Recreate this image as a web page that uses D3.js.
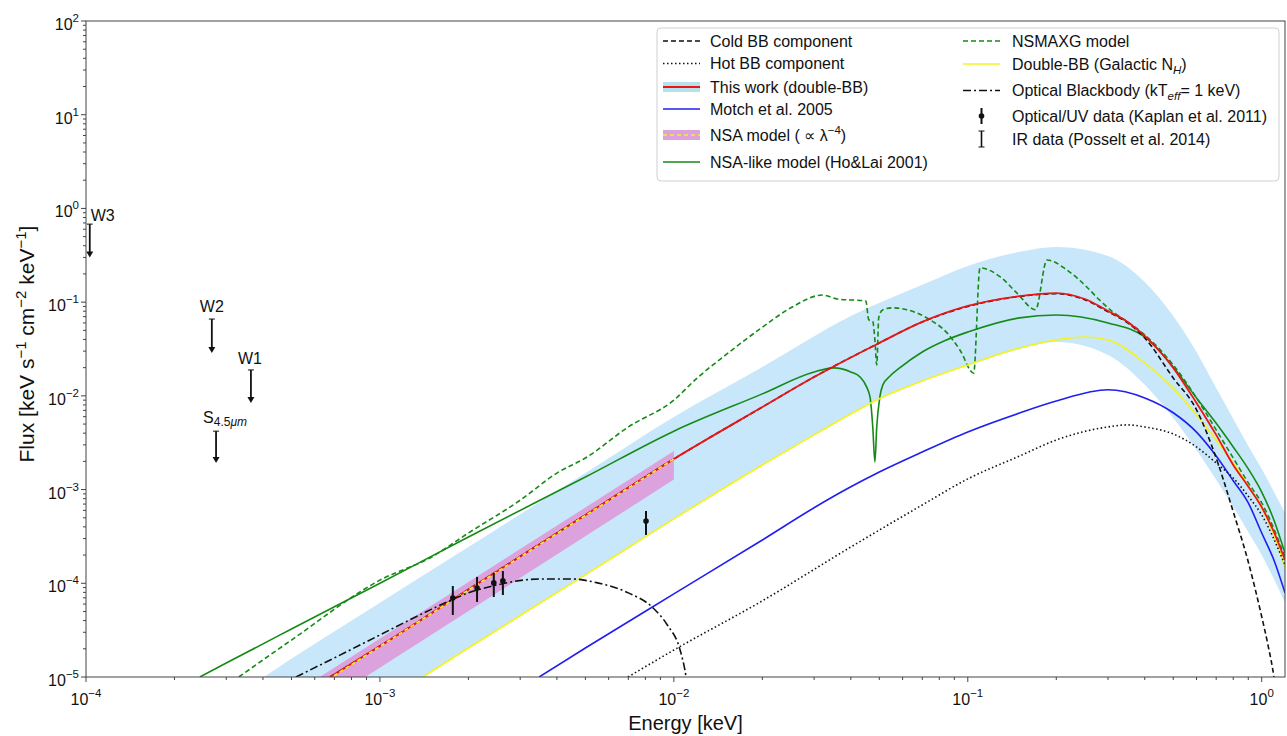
<!DOCTYPE html>
<html><head><meta charset="utf-8">
<script src="https://cdn.jsdelivr.net/npm/d3@7"></script>
<style>
body{margin:0;background:#fff}
svg{display:block}
text{font-family:"Liberation Sans",Arial,Helvetica,sans-serif;white-space:pre;fill:#111}
</style>
</head><body>
<svg id="chart" width="1287" height="736"></svg>
<script>
// ---------------- DATA (energy keV, flux keV s^-1 cm^-2 keV^-1) ----------------
const bandUpper = [[3e-4,5.3e-6],[4.03e-4,1e-5],[1e-3,6.2e-5],[2e-3,2.44e-4],[5e-3,1.5e-3],[1e-2,5.95e-3],[2e-2,2.03e-2],[4e-2,7.1e-2],[7e-2,0.153],[0.1,0.243],[0.15,0.344],[0.2,0.388],[0.3,0.311],[0.4,0.164],[0.5,7.1e-2],[0.6,2.94e-2],[0.7,1.21e-2],[0.8,5.7e-3],[0.9,2.92e-3],[1.0,1.66e-3],[1.2,5.6e-4]];
const bandLower = [[1e-3,5.1e-6],[1.4e-3,1e-5],[2e-3,2.04e-5],[5e-3,1.23e-4],[1e-2,4.86e-4],[2e-2,1.83e-3],[3e-2,3.83e-3],[4e-2,6.4e-3],[5e-2,9.3e-3],[7e-2,1.44e-2],[0.1,2.1e-2],[0.15,3.15e-2],[0.2,3.75e-2],[0.3,2.73e-2],[0.4,1.31e-2],[0.5,5.8e-3],[0.6,2.65e-3],[0.7,1.27e-3],[0.8,6.5e-4],[0.9,3.53e-4],[1.0,2.0e-4],[1.2,6.2e-5]];
const nsaCenter = [[4e-4,3.39e-6],[1e-2,2.12e-3]];
const nsaUpper = [[4e-4,4.1e-6],[1e-2,2.58e-3]];
const nsaLower = [[4e-4,2.0e-6],[1e-2,1.28e-3]];
const thisWork = [[6.76e-4,1e-5],[1e-3,2.14e-5],[2e-3,8.6e-5],[5e-3,5.36e-4],[1e-2,2.12e-3],[2e-2,7.6e-3],[3e-2,1.59e-2],[5e-2,3.67e-2],[7e-2,6.15e-2],[0.1,9.1e-2],[0.15,0.116],[0.2,0.125],[0.25,0.108],[0.3,8.05e-2],[0.35,6.15e-2],[0.4,4.36e-2],[0.5,1.99e-2],[0.6,8.4e-3],[0.7,3.83e-3],[0.8,1.83e-3],[0.9,1.08e-3],[1.0,6.5e-4],[1.1,3.53e-4],[1.2,1.77e-4]];
const coldBB = [[6.76e-4,1e-5],[1e-3,2.14e-5],[2e-3,8.6e-5],[5e-3,5.36e-4],[1e-2,2.12e-3],[2e-2,7.6e-3],[3e-2,1.59e-2],[5e-2,3.67e-2],[7e-2,6.15e-2],[0.1,9.0e-2],[0.15,0.115],[0.2,0.123],[0.25,0.106],[0.3,7.9e-2],[0.35,6.0e-2],[0.4,4.15e-2],[0.5,1.55e-2],[0.6,7.1e-3],[0.7,2.17e-3],[0.8,5.8e-4],[0.9,1.69e-4],[1.0,4.4e-5],[1.05,2.2e-5],[1.1,1e-5],[1.15,3e-6]];
const hotBB = [[6.98e-3,1e-5],[1e-2,1.94e-5],[2e-2,6.5e-5],[4e-2,2.44e-4],[7e-2,6.85e-4],[0.1,1.3e-3],[0.15,2.28e-3],[0.2,3.38e-3],[0.3,4.66e-3],[0.35,4.9e-3],[0.4,4.66e-3],[0.5,3.92e-3],[0.6,2.85e-3],[0.7,1.92e-3],[0.8,1.33e-3],[0.9,8.5e-4],[1.0,5.36e-4],[1.2,1.57e-4]];
const motch2005 = [[3.48e-3,1e-5],[5e-3,2.04e-5],[1e-2,7.7e-5],[2e-2,2.9e-4],[3e-2,6.4e-4],[4e-2,1.07e-3],[5e-2,1.54e-3],[7e-2,2.52e-3],[0.1,4.12e-3],[0.15,6.56e-3],[0.2,8.8e-3],[0.3,1.16e-2],[0.4,9.5e-3],[0.5,6.6e-3],[0.6,4.1e-3],[0.7,2.28e-3],[0.8,1.24e-3],[0.9,7.2e-4],[1.0,3.44e-4],[1.1,1.77e-4],[1.2,7.9e-5]];
const doubleBBGal = [[1.4e-3,1e-5],[2e-3,2.04e-5],[5e-3,1.23e-4],[1e-2,4.86e-4],[2e-2,1.83e-3],[3e-2,3.83e-3],[4e-2,6.4e-3],[5e-2,9.3e-3],[7e-2,1.44e-2],[0.1,2.14e-2],[0.15,3.24e-2],[0.2,3.95e-2],[0.25,4.25e-2],[0.3,3.95e-2],[0.4,2.24e-2],[0.5,1.21e-2],[0.6,6.25e-3],[0.7,3.38e-3],[0.8,1.92e-3],[0.9,1.09e-3],[1.0,6.4e-4],[1.1,3.28e-4],[1.2,1.49e-4]];
const nsaLike = [[2.44e-4,1e-5],[3e-4,1.41e-5],[5e-4,3.25e-5],[1e-3,1.0e-4],[2e-3,3.12e-4],[5e-3,1.36e-3],[1e-2,4.2e-3],[2e-2,1.05e-2],[3e-2,1.8e-2],[3.5e-2,1.99e-2],[4e-2,1.8e-2],[4.3e-2,1.59e-2],[4.53e-2,1.24e-2],[4.65e-2,9.7e-3],[4.75e-2,4.66e-3],[4.83e-2,1.97e-3],[4.9e-2,4.66e-3],[5.02e-2,9.7e-3],[5.14e-2,1.31e-2],[5.43e-2,1.62e-2],[5.88e-2,2.0e-2],[7e-2,2.94e-2],[8.3e-2,3.85e-2],[0.1,4.8e-2],[0.15,6.8e-2],[0.2,7.3e-2],[0.3,6.0e-2],[0.4,4.25e-2],[0.5,2.03e-2],[0.6,9.5e-3],[0.7,5.1e-3],[0.8,2.85e-3],[0.9,1.66e-3],[1.0,9.4e-4],[1.1,4.74e-4],[1.2,2.1e-4]];
const nsmaxg = [[3.31e-4,1e-5],[5e-4,2.48e-5],[1e-3,1.08e-4],[1.5e-3,1.91e-4],[2e-3,3.44e-4],[3e-3,7.7e-4],[4e-3,1.5e-3],[5e-3,2.17e-3],[7e-3,4.66e-3],[1e-2,9.0e-3],[1.2e-2,1.55e-2],[1.5e-2,2.73e-2],[2e-2,5.4e-2],[2.5e-2,8.7e-2],[3.2e-2,0.119],[3.6e-2,0.108],[4.5e-2,0.103],[4.6e-2,6.5e-2],[4.75e-2,6.2e-2],[4.83e-2,3.95e-2],[4.9e-2,2.14e-2],[4.98e-2,6.95e-2],[5.14e-2,8.3e-2],[5.56e-2,8.7e-2],[6.21e-2,8.3e-2],[7.43e-2,6.5e-2],[8.5e-2,4.7e-2],[9.4e-2,3.09e-2],[0.1047,1.75e-2],[0.110,0.232],[0.129,0.186],[0.147,0.125],[0.170,8.3e-2],[0.186,0.282],[0.217,0.221],[0.254,0.145],[0.281,0.105],[0.311,7.9e-2],[0.35,6.15e-2],[0.4,4.47e-2],[0.5,2.14e-2],[0.6,9.5e-3],[0.7,4.33e-3],[0.8,2.17e-3],[0.9,1.18e-3],[1.0,7.2e-4],[1.2,1.91e-4]];
const opticalBB = [[5.18e-4,1e-5],[7e-4,1.6e-5],[1e-3,2.81e-5],[1.5e-3,5.3e-5],[2e-3,7.9e-5],[2.5e-3,9.6e-5],[3.5e-3,1.11e-4],[4.5e-3,1.11e-4],[5.5e-3,1.01e-4],[7e-3,7.9e-5],[8.5e-3,5.45e-5],[9.5e-3,3.59e-5],[1.05e-2,1.94e-5],[1.1e-2,1e-5],[1.13e-2,5e-6]];
// Optical/UV data (Kaplan et al. 2011)
const kaplanE  = [1.77e-3, 2.14e-3, 2.44e-3, 2.62e-3, 8.04e-3];
const kaplanF  = [6.97e-5, 8.91e-5, 1.01e-4, 1.06e-4, 4.62e-4];
const kaplanLo = [4.59e-5, 6.32e-5, 7.14e-5, 7.5e-5, 3.28e-4];
const kaplanHi = [9.35e-5, 1.17e-4, 1.29e-4, 1.35e-4, 5.91e-4];
// IR upper limits (Posselt et al. 2014)
const irNames = ["W3", "W2", "W1", "S"];
const irE  = [1.03e-4, 2.68e-4, 3.64e-4, 2.77e-4];
const irHi = [0.68, 0.066, 0.0189, 4.2e-3];
const irLo = [0.30, 0.0287, 8.4e-3, 1.92e-3];
// ticks
const xMajorExp = [-4, -3, -2, -1, 0];
const yMajorExp = [-5, -4, -3, -2, -1, 0, 1, 2];

// ---------------- CHART ----------------
const L = 86, R = 1285, T = 21, B = 677;
const svg = d3.select("#chart");
const x = d3.scaleLog().domain([1e-4, 1.2]).range([L, R]);
const y = d3.scaleLog().domain([1e-5, 1e2]).range([B, T]);

svg.append("defs").append("clipPath").attr("id", "clip")
  .append("rect").attr("x", L).attr("y", T).attr("width", R - L).attr("height", B - T);

const plot = svg.append("g").attr("clip-path", "url(#clip)");
const line = d3.line().x(d => x(d[0])).y(d => y(d[1])).curve(d3.curveMonotoneX);
const lineLin = d3.line().x(d => x(d[0])).y(d => y(d[1]));

function bandPath(up, lo, smooth) {
  const l = smooth ? line : lineLin;
  const a = l(up);
  const b = l(lo.slice().reverse());
  return a + "L" + b.slice(1) + "Z";
}

const C = {
  band: "#c8e7fa", pink: "#dba2dd", red: "#ee1515", blue: "#1f1ff0",
  green: "#168a16", yellow: "#f4f41c", black: "#111"
};

plot.append("path").attr("d", bandPath(bandUpper, bandLower, true)).attr("fill", C.band);
plot.append("path").attr("d", bandPath(nsaUpper, nsaLower, false)).attr("fill", C.pink);

function draw(data, color, width, dash) {
  plot.append("path").datum(data).attr("d", line).attr("fill", "none")
    .attr("stroke", color).attr("stroke-width", width)
    .attr("stroke-dasharray", dash || null).attr("stroke-linejoin", "round");
}
draw(nsaLike, C.green, 1.6);
draw(nsmaxg, C.green, 1.6, "5,3");
draw(motch2005, C.blue, 1.6);
draw(doubleBBGal, C.yellow, 1.6);
draw(hotBB, C.black, 1.6, "1.5,2.5");
draw(coldBB, C.black, 1.6, "5,3");
draw(thisWork, C.red, 1.8);
plot.append("path").datum(nsaCenter).attr("d", lineLin).attr("fill", "none")
  .attr("stroke", C.yellow).attr("stroke-width", 1.6).attr("stroke-dasharray", "4,3");
draw(opticalBB, C.black, 1.6, "8,3,2,3");

// Kaplan data
const kap = svg.append("g");
kaplanE.forEach((e, i) => {
  kap.append("line").attr("x1", x(e)).attr("x2", x(e)).attr("y1", y(kaplanHi[i])).attr("y2", y(kaplanLo[i]))
    .attr("stroke", C.black).attr("stroke-width", 2);
  kap.append("circle").attr("cx", x(e)).attr("cy", y(kaplanF[i])).attr("r", 2.8).attr("fill", C.black);
});

// IR upper limits
const ir = svg.append("g");
irE.forEach((e, i) => {
  const cx = x(e), yt = y(irHi[i]), yb = y(irLo[i]);
  ir.append("line").attr("x1", cx).attr("x2", cx).attr("y1", yt).attr("y2", yb - 4)
    .attr("stroke", C.black).attr("stroke-width", 1.8);
  ir.append("line").attr("x1", cx - 3).attr("x2", cx + 3).attr("y1", yt).attr("y2", yt)
    .attr("stroke", C.black).attr("stroke-width", 1);
  ir.append("path").attr("d", `M${cx - 3.5},${yb - 6}L${cx + 3.5},${yb - 6}L${cx},${yb}Z`).attr("fill", C.black);
});
const irLabelDx = [1, 0, -1, -13];
const irLabelDy = [-3, -7, -6, -8];
const irAnchor = ["start", "middle", "middle", "start"];
irNames.forEach((n, i) => {
  const t = svg.append("text").attr("x", x(irE[i]) + irLabelDx[i]).attr("y", y(irHi[i]) + irLabelDy[i])
    .attr("font-size", 16).attr("text-anchor", irAnchor[i]);
  t.append("tspan").text(n);
  if (n === "S") {
    t.append("tspan").attr("font-size", 12).attr("dy", 3).text("4.5");
    t.append("tspan").attr("font-size", 12).attr("font-style", "italic").text("μm");
  }
});

// ---------------- AXES ----------------
const ax = svg.append("g");
ax.append("rect").attr("x", L).attr("y", T).attr("width", R - L).attr("height", B - T)
  .attr("fill", "none").attr("stroke", "#444").attr("stroke-width", 1);
const minus = v => String(v).replace("-", "−");

xMajorExp.forEach(k => {
  const px = x(Math.pow(10, k));
  ax.append("line").attr("x1", px).attr("x2", px).attr("y1", B).attr("y2", B + 5).attr("stroke", "#444");
  for (let m = 2; m <= 9; m++) {
    const v = m * Math.pow(10, k);
    if (v <= 1.2) {
      const p = x(v);
      ax.append("line").attr("x1", p).attr("x2", p).attr("y1", B).attr("y2", B + 3).attr("stroke", "#444");
    }
  }
  const t = ax.append("text").attr("x", px).attr("y", B + 28).attr("font-size", 16).attr("text-anchor", "middle");
  t.append("tspan").text("10");
  t.append("tspan").attr("dy", -8).attr("font-size", 11.5).text(minus(k));
});
yMajorExp.forEach(k => {
  const py = y(Math.pow(10, k));
  ax.append("line").attr("x1", L - 5).attr("x2", L).attr("y1", py).attr("y2", py).attr("stroke", "#444");
  if (k < 2) for (let m = 2; m <= 9; m++) {
    const p = y(m * Math.pow(10, k));
    ax.append("line").attr("x1", L - 3).attr("x2", L).attr("y1", p).attr("y2", p).attr("stroke", "#444");
  }
  const t = ax.append("text").attr("x", L - 7).attr("y", py + 9).attr("font-size", 16).attr("text-anchor", "end");
  t.append("tspan").text("10");
  t.append("tspan").attr("dy", -8).attr("font-size", 11.5).text(minus(k));
});

ax.append("text").attr("x", (L + R) / 2).attr("y", 730).attr("font-size", 20).attr("text-anchor", "middle").text("Energy [keV]");
const yl = ax.append("text").attr("transform", `translate(34,344) rotate(-90)`)
  .attr("font-size", 21).attr("text-anchor", "middle");
[["Flux [keV s", 0], ["−1", 1], [" cm", 0], ["−2", 1], [" keV", 0], ["−1", 1], ["]", 0]].forEach((s, i, arr) => {
  const ts = yl.append("tspan").text(s[0]);
  if (s[1]) ts.attr("font-size", 15).attr("dy", -8);
  else if (i > 0 && arr[i - 1][1]) ts.attr("dy", 8);
});

// ---------------- LEGEND ----------------
const lg = svg.append("g");
lg.append("rect").attr("x", 657).attr("y", 28).attr("width", 622).attr("height", 153).attr("rx", 4)
  .attr("fill", "#fff").attr("fill-opacity", 0.85).attr("stroke", "#cfcfcf");

function legText(xx, yy, segs) {
  const t = lg.append("text").attr("x", xx).attr("y", yy + 5.5).attr("font-size", 16);
  let prev = 0;
  segs.forEach(s => {
    const obj = (typeof s === "string") ? {t: s, mode: ""} : s;
    const ts = t.append("tspan").text(obj.t);
    let shift = 0;
    if (obj.mode === "sup") { ts.attr("font-size", 11.5); shift = -7; }
    if (obj.mode === "sub") { ts.attr("font-size", 11.5); shift = 4; }
    if (obj.italic) ts.attr("font-style", "italic");
    if (shift !== prev) ts.attr("dy", shift - prev);
    prev = shift;
  });
}
function legLine(x0, yy, color, w, dash) {
  lg.append("line").attr("x1", x0).attr("x2", x0 + 37).attr("y1", yy).attr("y2", yy)
    .attr("stroke", color).attr("stroke-width", w).attr("stroke-dasharray", dash || null);
}
const c1 = 663, c2 = 963, t1 = 710, t2 = 1012;
const r1 = [41, 63.5, 87, 109, 135, 162];
const r2 = [41, 64, 90.5, 116, 139];

legLine(c1, r1[0], C.black, 1.6, "5,3"); legText(t1, r1[0], ["Cold BB component"]);
legLine(c1, r1[1], C.black, 1.6, "1.5,2.5"); legText(t1, r1[1], ["Hot BB component"]);
lg.append("rect").attr("x", c1).attr("y", r1[2] - 5).attr("width", 37).attr("height", 10).attr("fill", "#b4e1ea");
legLine(c1, r1[2], C.red, 1.8); legText(t1, r1[2], ["This work (double-BB)"]);
legLine(c1, r1[3], C.blue, 1.6); legText(t1, r1[3], ["Motch et al. 2005"]);
lg.append("rect").attr("x", c1).attr("y", r1[4] - 5).attr("width", 37).attr("height", 10).attr("fill", C.pink);
legLine(c1, r1[4], C.yellow, 1.6, "4,3"); legText(t1, r1[4], ["NSA model ( ∝ λ", {t: "−4", mode: "sup"}, ")"]);
legLine(c1, r1[5], C.green, 1.6); legText(t1, r1[5], ["NSA-like model (Ho&Lai 2001)"]);

legLine(c2, r2[0], C.green, 1.6, "5,3"); legText(t2, r2[0], ["NSMAXG model"]);
legLine(c2, r2[1], C.yellow, 1.6); legText(t2, r2[1], ["Double-BB (Galactic N", {t: "H", mode: "sub", italic: true}, ")"]);
legLine(c2, r2[2], C.black, 1.6, "8,3,2,3"); legText(t2, r2[2], ["Optical Blackbody (kT", {t: "eff", mode: "sub", italic: true}, "= 1 keV)"]);
const kx = c2 + 18.5;
lg.append("line").attr("x1", kx).attr("x2", kx).attr("y1", r2[3] - 8).attr("y2", r2[3] + 8).attr("stroke", C.black).attr("stroke-width", 2);
lg.append("circle").attr("cx", kx).attr("cy", r2[3]).attr("r", 2.8).attr("fill", C.black);
legText(t2, r2[3], ["Optical/UV data (Kaplan et al. 2011)"]);
lg.append("line").attr("x1", kx).attr("x2", kx).attr("y1", r2[4] - 8).attr("y2", r2[4] + 8).attr("stroke", C.black).attr("stroke-width", 1.6);
lg.append("line").attr("x1", kx - 3).attr("x2", kx + 3).attr("y1", r2[4] - 8).attr("y2", r2[4] - 8).attr("stroke", C.black).attr("stroke-width", 1);
lg.append("line").attr("x1", kx - 3).attr("x2", kx + 3).attr("y1", r2[4] + 8).attr("y2", r2[4] + 8).attr("stroke", C.black).attr("stroke-width", 1);
legText(t2, r2[4], ["IR data (Posselt et al. 2014)"]);
</script>
</body></html>
